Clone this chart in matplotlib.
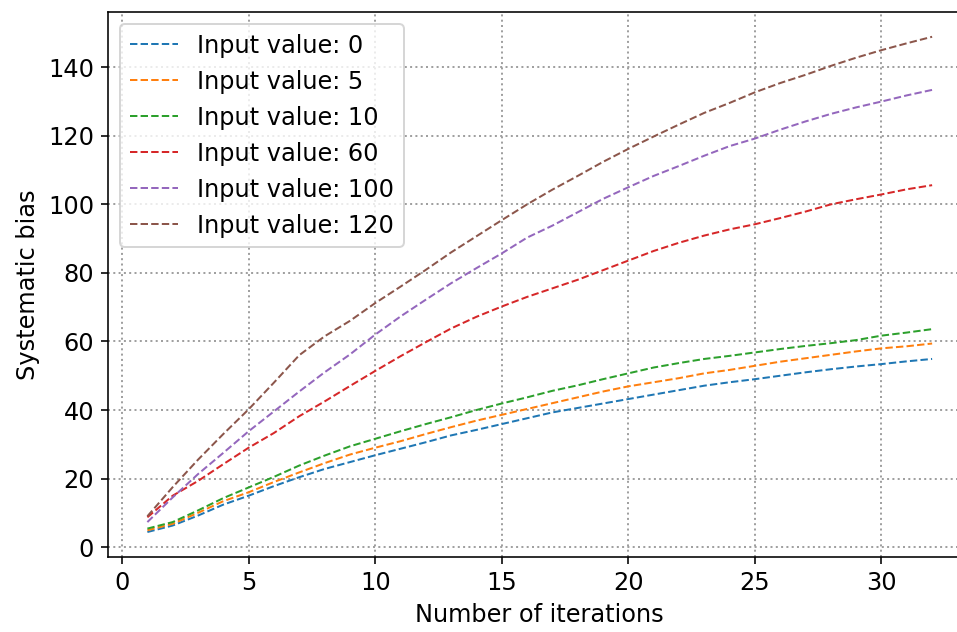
import matplotlib
matplotlib.use("Agg")
import matplotlib.pyplot as plt

# Values
iterations = list(range(1, 33))

bias_0 = [4.4, 6.3, 9.2, 12.4, 15.0, 17.8, 20.4, 22.8, 24.8, 26.8, 28.7, 30.6,
          32.6, 34.2, 35.9, 37.6, 39.3, 40.6, 41.9, 43.2, 44.5, 45.8, 47.1, 48.1,
          49.0, 50.0, 51.0, 51.9, 52.7, 53.4, 54.2, 54.9]
bias_5 = [4.9, 6.8, 10.0, 13.4, 16.0, 19.0, 21.8, 24.5, 27.0, 29.0, 30.9, 33.0,
          35.0, 36.9, 38.6, 40.3, 42.0, 43.7, 45.4, 46.9, 48.1, 49.3, 50.7, 51.7,
          52.9, 54.1, 55.1, 56.1, 57.1, 58.0, 58.6, 59.4]
bias_10 = [5.4, 7.3, 10.7, 14.3, 17.4, 20.5, 23.8, 26.7, 29.4, 31.6, 33.8, 35.9,
           37.9, 40.0, 41.9, 43.7, 45.6, 47.2, 49.0, 50.7, 52.4, 53.7, 54.9, 55.8,
           56.8, 57.8, 58.7, 59.5, 60.4, 61.7, 62.6, 63.6]
bias_60 = [8.7, 15.0, 19.3, 24.2, 29.0, 33.3, 38.2, 42.5, 47.0, 51.4, 55.7, 59.8,
           63.8, 67.2, 70.2, 73.0, 75.5, 78.0, 80.8, 83.6, 86.4, 88.8, 90.9, 92.7,
           94.2, 96.0, 97.9, 100.0, 101.5, 102.9, 104.4, 105.6]
bias_100 = [7.3, 14.5, 21.3, 27.5, 33.8, 39.6, 45.4, 51.0, 56.2, 62.0, 67.3, 72.2,
            77.0, 81.4, 85.7, 90.3, 93.8, 97.7, 101.6, 105.0, 108.3, 111.2, 114.2,
            117.0, 119.2, 121.8, 124.2, 126.4, 128.3, 130.0, 131.8, 133.4]
bias_120 = [9.0, 17.5, 25.5, 33.0, 40.2, 48.0, 56.0, 61.5, 66.0, 71.2, 76.0, 80.9,
            86.0, 90.7, 95.4, 100.0, 104.3, 108.3, 112.4, 116.2, 119.8, 123.3,
            126.7, 129.6, 132.7, 135.4, 137.8, 140.4, 142.8, 145.0, 147.0, 148.9]

input_values = [0, 5, 10, 60, 100, 120]
series = [bias_0, bias_5, bias_10, bias_60, bias_100, bias_120]

plt.rcParams["font.size"] = 12

fig = plt.figure(figsize=(957 / 144, 632 / 144), dpi=144)
# the reference is cut off on the right, so the axes run past the figure edge
ax = fig.add_axes([0.113, 0.119, 0.902, 0.862])

for val, ys in zip(input_values, series):
    ax.plot(iterations, ys, linestyle="--", linewidth=1.0,
            label=f"Input value: {val}")

ax.set_xlabel("Number of iterations")
ax.set_ylabel("Systematic bias")
ax.set_xticks([0, 5, 10, 15, 20, 25, 30])
ax.set_yticks([0, 20, 40, 60, 80, 100, 120, 140])
ax.grid(True, linestyle=":", linewidth=1.0, color="#a0a0a0")
ax.legend(loc="upper left")

fig.savefig("out.png", dpi=144)
